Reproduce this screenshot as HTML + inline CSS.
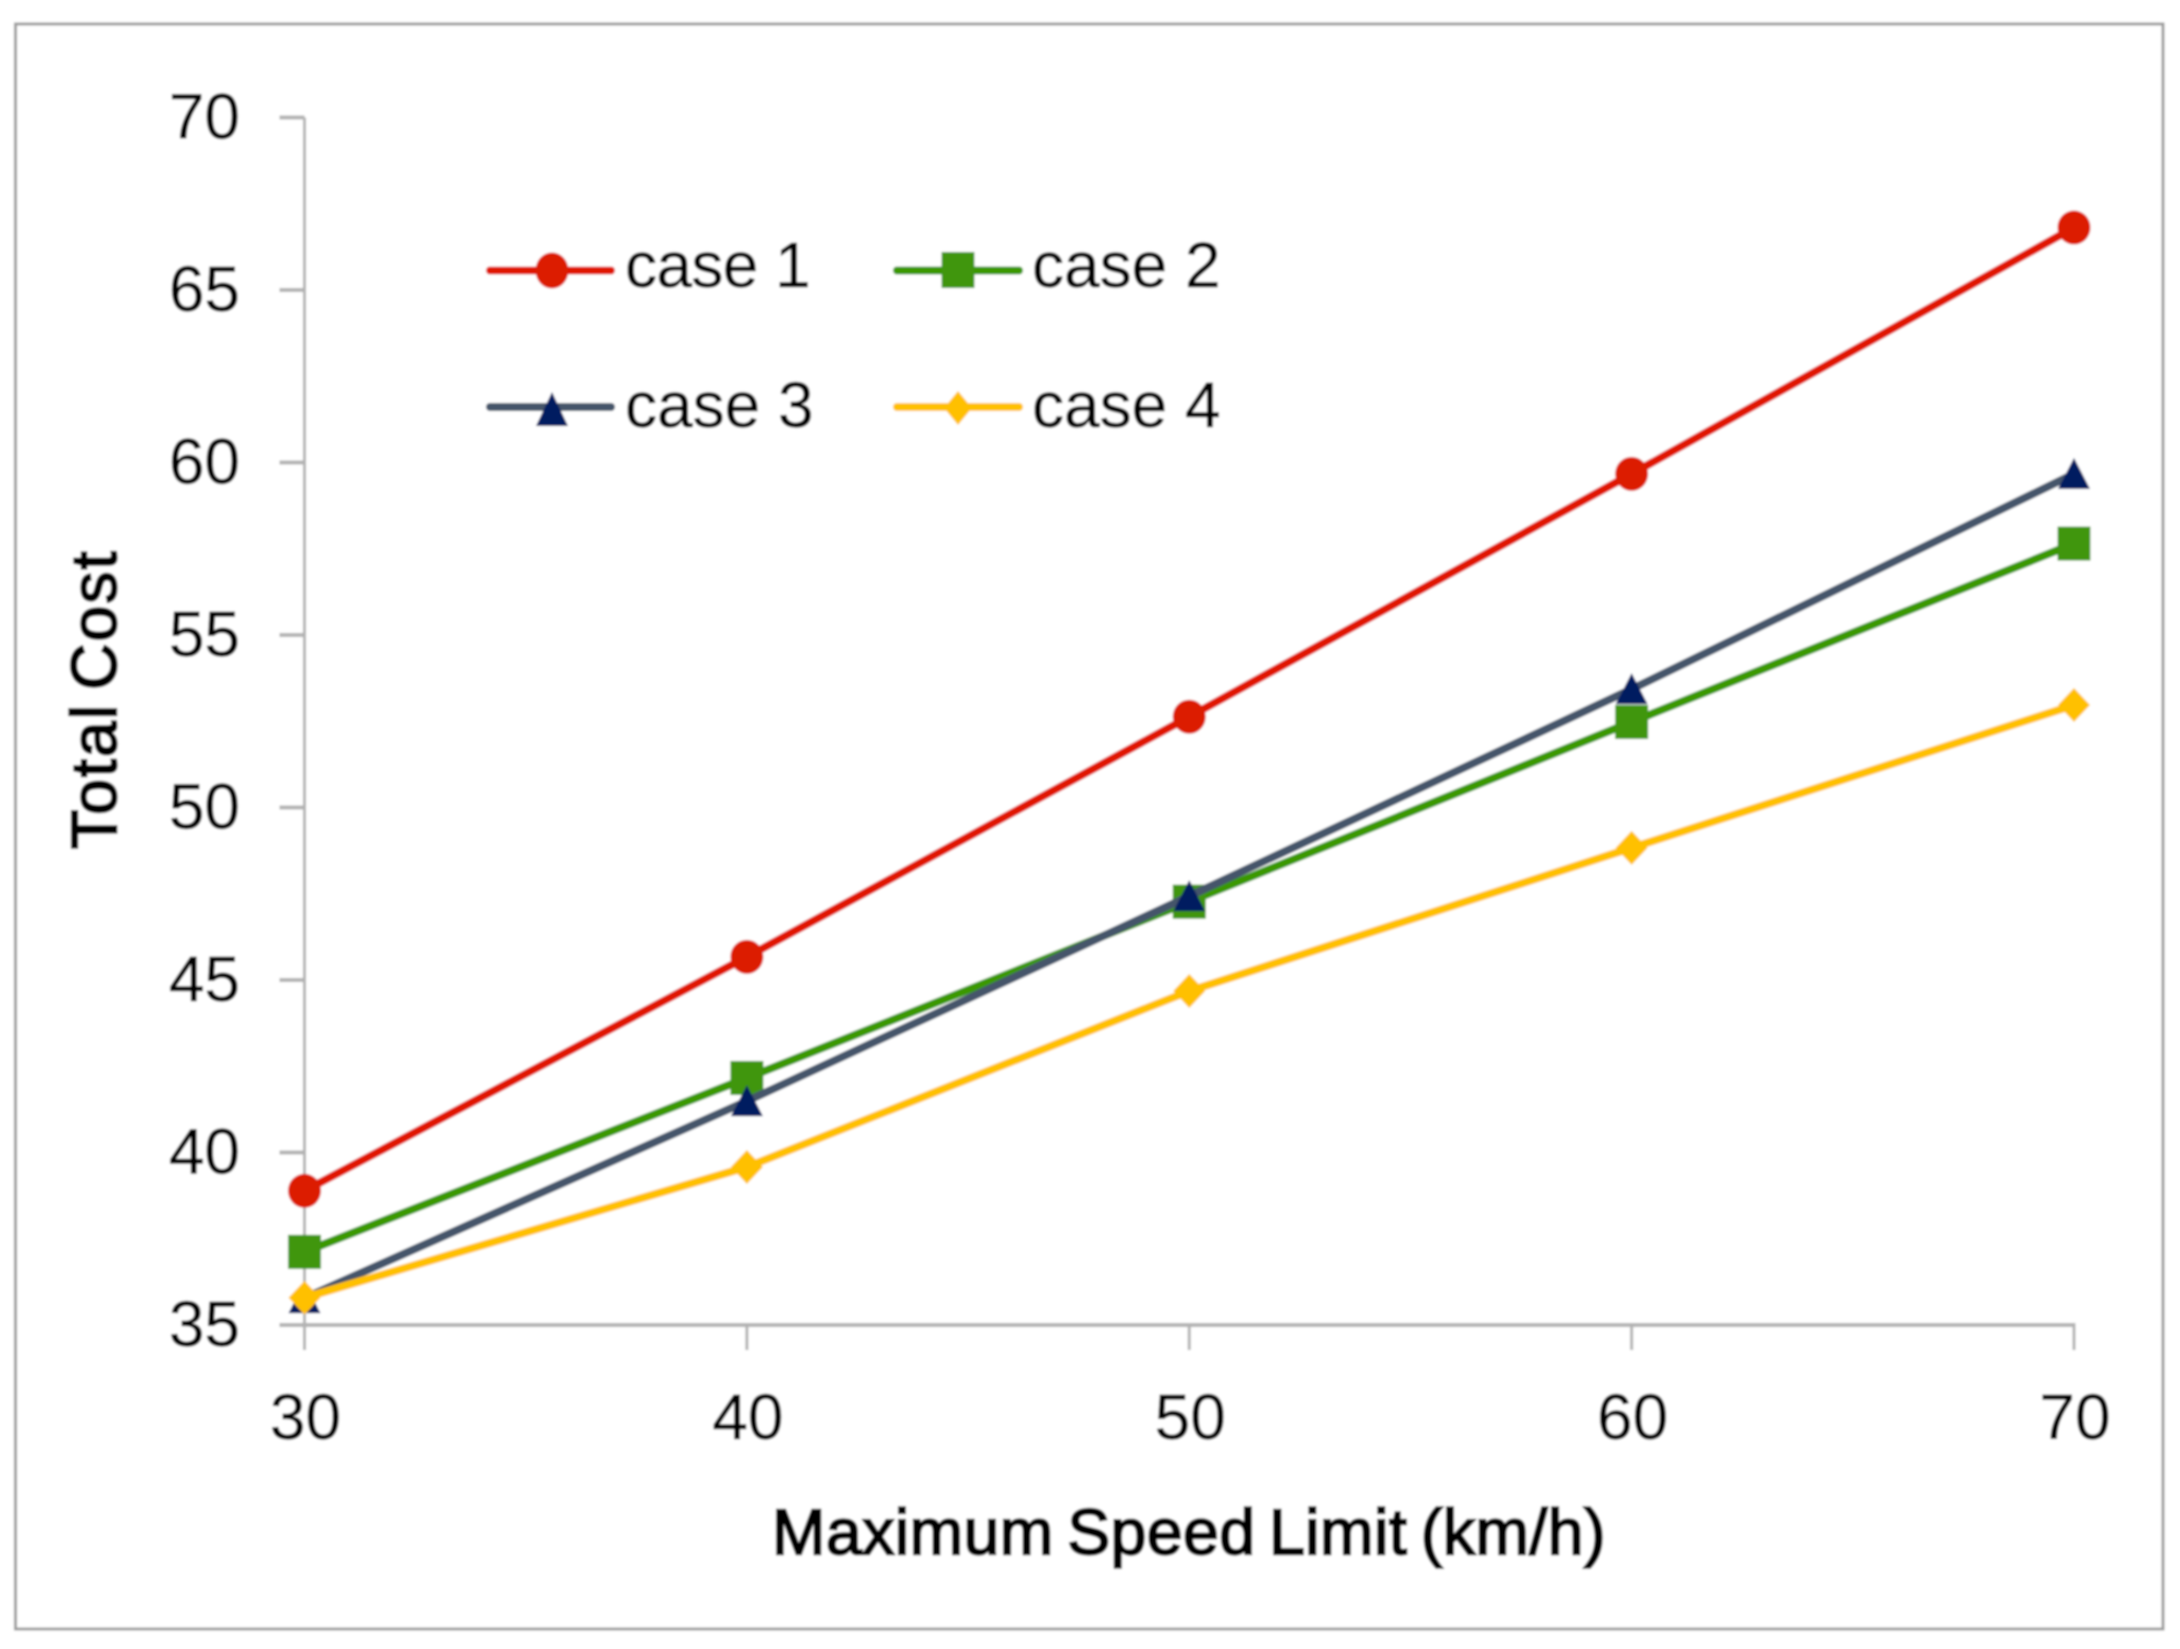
<!DOCTYPE html>
<html lang="en">
<head>
<meta charset="utf-8">
<title>Total Cost vs Maximum Speed Limit</title>
<style>
  html, body { margin: 0; padding: 0; background: #fff; }
  svg { display: block; font-family: "Liberation Sans", Arial, sans-serif; }
</style>
</head>
<body>
<svg id="chart" xmlns="http://www.w3.org/2000/svg" width="2180" height="1649" viewBox="0 0 2180 1649">
  <defs>
    <filter id="soft" x="0" y="0" width="100%" height="100%" filterUnits="objectBoundingBox">
      <feGaussianBlur stdDeviation="1"/>
    </filter>
  </defs>
  <g id="root" filter="url(#soft)">
    <rect x="0" y="0" width="2180" height="1649" fill="#fff"/>
    <rect x="15.5" y="24" width="2147.5" height="1605" fill="none" stroke="#9b9b9b" stroke-width="3"/>
    <g id="axes"></g>
    <g id="series"></g>

    <text x="772" y="1554" font-size="64" fill="#000" stroke="#000" stroke-width="2.4" letter-spacing="0.65" word-spacing="-5">Maximum Speed Limit (km/h)</text>
    <text transform="translate(116,849) rotate(-90)" font-size="64" fill="#000" stroke="#000" stroke-width="2.4" letter-spacing="2.2" word-spacing="-7">Total Cost</text>

    <g>
      <g>
        <line x1="490" y1="270.5" x2="611" y2="270.5" stroke="#e01205" stroke-width="8" stroke-linecap="round"/>
        <ellipse cx="552" cy="270.5" rx="16.5" ry="18" fill="#dc1c06"/>
        <text x="625" y="287" font-size="64" letter-spacing="-0.6" stroke="#000" stroke-width="0.5" fill="#000">case 1</text>
      </g>
      <g>
        <line x1="897" y1="270.5" x2="1019" y2="270.5" stroke="#3a9800" stroke-width="8" stroke-linecap="round"/>
        <rect x="941.5" y="252" width="33" height="36" fill="#40960f"/>
        <text x="1032" y="287" font-size="64" stroke="#000" stroke-width="0.5" fill="#000">case 2</text>
      </g>
      <g>
        <line x1="490" y1="407" x2="611" y2="407" stroke="#44546a" stroke-width="8" stroke-linecap="round"/>
        <polygon points="552,392 536,426 568,426" fill="#001f60"/>
        <text x="625" y="427" font-size="64" stroke="#000" stroke-width="0.5" fill="#000">case 3</text>
      </g>
      <g>
        <line x1="897" y1="407" x2="1019" y2="407" stroke="#ffc000" stroke-width="8" stroke-linecap="round"/>
        <polygon points="958,391 972,408 958,425 944,408" fill="#ffc000"/>
        <text x="1032" y="427" font-size="64" stroke="#000" stroke-width="0.5" fill="#000">case 4</text>
      </g>
    </g>
  </g>
</svg>
<script>
const categories = [30, 40, 50, 60, 70];
const yTickLabels = [35, 40, 45, 50, 55, 60, 65, 70];
const case1 = [38.89, 45.67, 52.63, 59.67, 66.81];
const case2 = [37.12, 42.16, 47.27, 52.48, 57.65];
const case3 = [35.78, 41.49, 47.43, 53.43, 59.67];
const case4 = [35.79, 39.58, 44.68, 48.83, 52.97];

const NS = 'http://www.w3.org/2000/svg';
const X0 = 304.5, X1 = 2074, Y0 = 1325, Y1 = 117.5;
const xMin = categories[0], xMax = categories[categories.length - 1];
const yMin = yTickLabels[0], yMax = yTickLabels[yTickLabels.length - 1];
function xScale(v) { return X0 + (v - xMin) * (X1 - X0) / (xMax - xMin); }
function yScale(v) { return Y0 - (v - yMin) * (Y0 - Y1) / (yMax - yMin); }

function make(tag, attrs, parent) {
  const el = document.createElementNS(NS, tag);
  for (const k in attrs) el.setAttribute(k, attrs[k]);
  parent.appendChild(el);
  return el;
}

const axes = document.getElementById('axes');
const seriesGroup = document.getElementById('series');
const AXIS = '#b2b2b2';

const yAxisLine = make('line', { x1: X0, y1: Y1, x2: X0, y2: Y0 + 25, stroke: AXIS, 'stroke-width': 3 }, axes);



const xAxisLine = make('line', { x1: X0 - 25, y1: Y0, x2: X1 + 1.5, y2: Y0, stroke: AXIS, 'stroke-width': 4 }, axes);



yTickLabels.forEach(function (v) {
  const y = yScale(v);
  const tick = make('line', { x1: X0 - 25, y1: y, x2: X0, y2: y, stroke: AXIS, 'stroke-width': 4 }, axes);
  
  
  const label = make('text', { x: 240, y: y + 21, 'font-size': 64, 'text-anchor': 'end', fill: '#000', stroke: '#000', 'stroke-width': 0.5 }, axes);
  label.textContent = String(v);
  
  
});

categories.forEach(function (v) {
  const x = xScale(v);
  const tick = make('line', { x1: x, y1: Y0, x2: x, y2: Y0 + 25, stroke: AXIS, 'stroke-width': 3 }, axes);
  
  
  const label = make('text', { x: x + 1, y: 1439, 'font-size': 64, 'text-anchor': 'middle', fill: '#000', stroke: '#000', 'stroke-width': 0.5 }, axes);
  label.textContent = String(v);
  
  
});

function drawSeries(name, values, lineColor, markerColor, shape) {
  const g = make('g', {}, seriesGroup);
  
  
  const pts = values.map(function (v, i) { return xScale(categories[i]) + ',' + yScale(v); }).join(' ');
  const line = make('polyline', { points: pts, fill: 'none', stroke: lineColor, 'stroke-width': 8, 'stroke-linejoin': 'round' }, g);
  
  
  values.forEach(function (v, i) {
    const cx = xScale(categories[i]);
    const cy = yScale(v);
    let m;
    if (shape === 'circle') {
      m = make('ellipse', { cx: cx, cy: cy, rx: 16.5, ry: 17, fill: markerColor }, g);
    } else if (shape === 'square') {
      m = make('rect', { x: cx - 16.5, y: cy - 17, width: 33, height: 34, fill: markerColor }, g);
    } else if (shape === 'triangle') {
      m = make('polygon', { points: cx + ',' + (cy - 16) + ' ' + (cx - 16) + ',' + (cy + 15) + ' ' + (cx + 16) + ',' + (cy + 15), fill: markerColor }, g);
    } else {
      m = make('polygon', { points: cx + ',' + (cy - 17) + ' ' + (cx + 16) + ',' + cy + ' ' + cx + ',' + (cy + 17) + ' ' + (cx - 16) + ',' + cy, fill: markerColor }, g);
    }
    
    
  });
}

drawSeries('case-1', case1, '#e01205', '#dc1c06', 'circle');
drawSeries('case-2', case2, '#3a9800', '#40960f', 'square');
drawSeries('case-3', case3, '#44546a', '#001f60', 'triangle');
drawSeries('case-4', case4, '#ffc000', '#ffc000', 'diamond');
</script>
</body>
</html>
